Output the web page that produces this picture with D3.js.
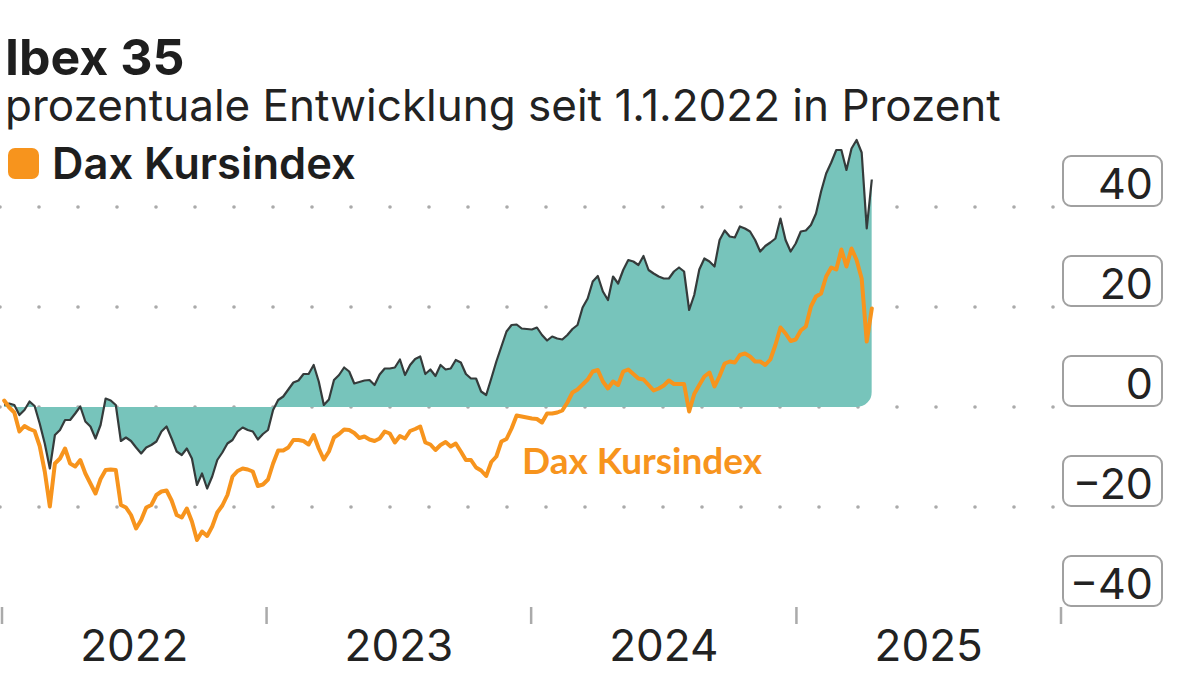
<!DOCTYPE html>
<html><head><meta charset="utf-8">
<script src="https://cdn.jsdelivr.net/npm/d3@7"></script>
<style>
html,body{margin:0;padding:0;background:#fff;}
svg{display:block;}
</style></head>
<body>
<svg id="chart" width="1200" height="688"></svg>
<script>
// ---- data (percent change since 1.1.2022), weekly from first week ----
const firstWeek = "2022-01-04";
const ibex = [0.4,0.7,0.4,-1.6,-0.6,1.1,0.2,-3.3,-7.3,-12.3,-5.6,-4.6,-2.6,-2.6,-1.3,0.1,-2.9,-3.9,-6.3,-3.6,
1.7,1.3,0.4,-6.8,-6.1,-6.8,-8.1,-9.3,-8.1,-7.6,-6.9,-4.9,-3.9,-6.3,-8.9,-9.6,-8.3,-10.3,-15.6,-13.3,
-16.3,-13.9,-10.6,-9.1,-7.3,-6.6,-4.9,-4.1,-4.6,-4.9,-6.5,-5.4,-4.6,-0.6,1.4,2.1,3.5,4.9,5.3,6.6,
6.6,8.4,5.1,0.4,1.5,5.4,6.4,7.9,7.1,4.7,5.0,5.3,5.4,4.4,6.5,7.7,7.7,7.9,9.5,6.4,
8.4,9.6,10.1,6.6,7.5,6.2,8.4,7.5,7.7,9.4,8.9,6.6,5.7,5.7,3.1,2.4,5.7,9.1,12.1,15.1,
16.4,16.5,15.7,15.6,15.5,15.9,14.4,13.3,14.1,13.7,13.5,14.4,15.6,16.4,19.9,21.7,25.1,26.2,23.1,21.4,
26.1,24.7,27.4,29.4,29.1,28.4,30.2,27.4,26.7,26.1,25.7,25.7,27.1,27.9,27.1,19.4,22.4,27.5,29.7,29.1,
28.1,33.4,35.3,34.1,33.9,36.1,35.7,35.1,33.4,31.1,32.2,32.9,33.7,37.7,33.4,31.1,32.7,35.1,35.3,36.4,
38.7,43.1,46.7,48.9,51.4,51.4,47.4,51.7,53.4,50.9,35.7,45.5];
const dax = [1.3,-0.1,-1.1,-4.9,-3.8,-4.4,-4.8,-7.8,-12.9,-19.9,-11.3,-10.3,-8.3,-11.3,-11.9,-10.6,-13.3,-15.3,-17.3,-14.4,
-12.6,-12.5,-12.6,-19.6,-20.1,-21.6,-24.3,-22.6,-20.1,-19.6,-17.6,-16.9,-16.7,-18.7,-21.6,-22.1,-20.3,-22.9,-26.6,-24.9,
-25.8,-23.9,-21.1,-19.7,-17.6,-13.9,-12.8,-12.3,-12.5,-12.9,-15.8,-15.5,-14.5,-11.3,-8.7,-8.7,-8.1,-6.6,-6.6,-6.8,
-7.5,-5.6,-8.3,-10.5,-8.9,-6.1,-5.4,-4.5,-4.6,-5.2,-6.2,-5.9,-6.5,-6.8,-6.3,-4.9,-5.3,-7.1,-5.8,-6.3,
-4.8,-4.4,-3.9,-7.1,-7.5,-8.6,-7.6,-7.0,-7.9,-7.3,-8.9,-10.6,-10.6,-12.1,-12.7,-13.8,-11.0,-9.9,-6.9,-6.4,
-4.3,-1.7,-1.9,-2.1,-2.3,-2.4,-3.1,-1.3,-1.3,-1.1,-0.7,0.9,2.9,3.5,4.5,5.5,7.1,7.4,5.1,3.7,
5.1,4.4,7.1,7.5,6.6,5.7,5.5,4.4,3.3,3.7,4.3,5.3,4.6,4.6,4.6,-0.9,2.6,4.4,6.1,6.9,
4.1,6.2,8.7,9.1,8.9,10.4,10.7,10.1,9.1,9.1,8.4,9.5,12.4,15.9,14.7,13.2,13.5,15.3,16.1,20.1,
22.1,22.7,26.1,27.9,27.5,31.5,28.1,31.7,29.4,25.7,13.1,19.7];
const yTicks = [40, 20, 0, -20, -40];
const yGridTicks = [40, 20, 0, -20];
const yearLabels = ["2022", "2023", "2024", "2025"];
const title = "Ibex 35";
const subtitle = "prozentuale Entwicklung seit 1.1.2022 in Prozent";
const legendLabel = "Dax Kursindex";

// ---- setup ----
const svg = d3.select("#chart");
const FONT = "Inter, 'Noto Sans', sans-serif";
const parse = d3.timeParse("%Y-%m-%d");
const start = parse(firstWeek);
const dates = ibex.map((_, i) => d3.timeDay.offset(start, 7 * i));
const ibexData = ibex.map((v, i) => ({date: dates[i], value: v}));
const daxData = dax.map((v, i) => ({date: dates[i], value: v}));

const x = d3.scaleTime()
  .domain([new Date(2022, 0, 1), new Date(2026, 0, 1)])
  .range([2, 1061]);
const y = d3.scaleLinear().domain([-40, 40]).range([607, 207]);

// ---- dotted gridlines ----
const dotXs = d3.range(0, 1054, 39);
const grid = svg.append("g");
yGridTicks.forEach(t => {
  grid.selectAll(null).data(dotXs).enter().append("circle")
    .attr("cx", d => d).attr("cy", y(t)).attr("r", 1.8).attr("fill", "#aaaaaa");
});

// ---- area with rounded bottom-right corner ----
const lastX = x(dates[dates.length - 1]);
const r = 15;
const y0 = y(0);
const defs = svg.append("defs");
defs.append("clipPath").attr("id", "areaClip").append("path")
  .attr("d", `M0,0 H${lastX} V${y0 - r} A${r},${r} 0 0 1 ${lastX - r},${y0} H600 V688 H0 Z`);

const area = d3.area().x(d => x(d.date)).y0(y0).y1(d => y(d.value));
svg.append("path").datum(ibexData)
  .attr("d", area).attr("fill", "#77c4bb").attr("clip-path", "url(#areaClip)");

const line = d3.line().x(d => x(d.date)).y(d => y(d.value));
svg.append("path").datum(ibexData).attr("d", line)
  .attr("fill", "none").attr("stroke", "#353b3b").attr("stroke-width", 2.2)
  .attr("stroke-linejoin", "round");
svg.append("path").datum(daxData).attr("d", line)
  .attr("fill", "none").attr("stroke", "#f7941d").attr("stroke-width", 4)
  .attr("stroke-linejoin", "round").attr("stroke-linecap", "round");

// ---- x axis ticks and year labels ----
const yearStarts = d3.timeYear.range(new Date(2022, 0, 1), new Date(2026, 0, 2));
svg.append("g").selectAll("line").data(yearStarts).enter().append("line")
  .attr("x1", d => x(d)).attr("x2", d => x(d))
  .attr("y1", 607).attr("y2", 624)
  .attr("stroke", "#aaaaaa").attr("stroke-width", 2.5);
svg.append("g").selectAll("text").data(yearLabels).enter().append("text")
  .attr("x", d => (x(new Date(+d, 0, 1)) + x(new Date(+d + 1, 0, 1))) / 2)
  .attr("y", 661)
  .attr("text-anchor", "middle")
  .attr("font-family", FONT).attr("font-size", 44).attr("fill", "#222")
  .text(d => d);

// ---- y axis boxed labels ----
const yl = svg.append("g");
yTicks.forEach(t => {
  yl.append("rect")
    .attr("x", 1063).attr("y", y(t) - 51).attr("width", 99).attr("height", 50)
    .attr("rx", 8).attr("fill", "#fff").attr("stroke", "#a0a0a0").attr("stroke-width", 2);
  yl.append("text")
    .attr("x", 1153).attr("y", y(t) - 8)
    .attr("text-anchor", "end")
    .attr("font-family", FONT).attr("font-size", 43).attr("fill", "#222")
    .text(t < 0 ? "\u2212" + Math.abs(t) : String(t));
});

// ---- titles and legend ----
svg.append("text").attr("x", 5).attr("y", 75)
  .attr("font-family", FONT).attr("font-weight", 700).attr("font-size", 50)
  .attr("fill", "#1e1e1e").text(title);
svg.append("text").attr("x", 5).attr("y", 121)
  .attr("font-family", FONT).attr("font-size", 44)
  .attr("fill", "#222").text(subtitle);
svg.append("rect").attr("x", 8).attr("y", 148).attr("width", 31).attr("height", 31)
  .attr("rx", 7).attr("fill", "#f7941d");
svg.append("text").attr("x", 52).attr("y", 179)
  .attr("font-family", FONT).attr("font-weight", 600).attr("font-size", 43.5)
  .attr("fill", "#1e1e1e").text(legendLabel);

// ---- inline series label ----
svg.append("text").attr("x", 522).attr("y", 474)
  .attr("font-family", "Lato, 'Open Sans', sans-serif").attr("font-weight", 700).attr("font-size", 37)
  .attr("fill", "#f7941d").text(legendLabel);
</script>
</body></html>
